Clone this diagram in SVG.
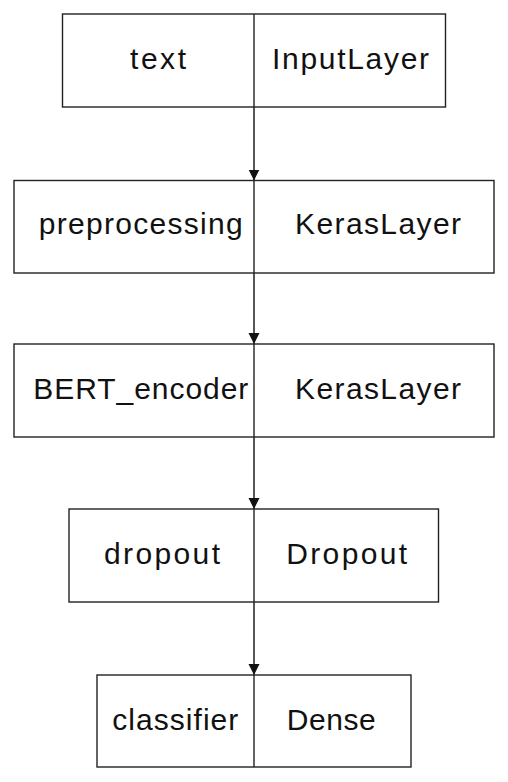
<svg xmlns="http://www.w3.org/2000/svg" width="508" height="782" viewBox="0 0 508 782">
<defs>
<marker id="arr" markerWidth="12" markerHeight="12" refX="11" refY="5.5" orient="auto" markerUnits="userSpaceOnUse">
<path d="M0,0 L11,5.5 L0,11 Z" fill="#111"/>
</marker>
</defs>
<style>
rect{fill:#fff;stroke:#222;stroke-width:1.4}
.d{stroke:#222;stroke-width:1.4}
text{font-family:"Liberation Sans",Arial,sans-serif;font-size:30px;fill:#111;text-anchor:middle}
.c{stroke:#111;stroke-width:1.4;fill:none}
</style>
<rect x="0" y="0" width="508" height="782" style="fill:#fff;stroke:none"/>
<g id="connectors">
<line class="c" x1="254" y1="107" x2="254" y2="180.5" marker-end="url(#arr)"/>
<line class="c" x1="254" y1="273" x2="254" y2="344" marker-end="url(#arr)"/>
<line class="c" x1="254" y1="437" x2="254" y2="509" marker-end="url(#arr)"/>
<line class="c" x1="254" y1="602" x2="254" y2="675" marker-end="url(#arr)"/>
</g>
<g id="text_node">
<rect x="62.5" y="14" width="383" height="93"/>
<line class="d" x1="254" y1="14" x2="254" y2="107"/>
<text x="158" y="69" textLength="56">text</text>
<text x="350.5" y="69" textLength="157">InputLayer</text>
</g>
<g id="preprocessing_node">
<rect x="14" y="180.5" width="480" height="92.5"/>
<line class="d" x1="254" y1="180.5" x2="254" y2="273"/>
<text x="140.7" y="233.5" textLength="204">preprocessing</text>
<text x="378" y="233.5" textLength="166">KerasLayer</text>
</g>
<g id="bert_node">
<rect x="14" y="344" width="480" height="93"/>
<line class="d" x1="254" y1="344" x2="254" y2="437"/>
<text x="140.8" y="398.5" textLength="215">BERT_encoder</text>
<text x="378" y="398.5" textLength="166">KerasLayer</text>
</g>
<g id="dropout_node">
<rect x="69" y="509" width="369.5" height="93"/>
<line class="d" x1="254" y1="509" x2="254" y2="602"/>
<text x="162" y="564" textLength="116">dropout</text>
<text x="346.7" y="564" textLength="121">Dropout</text>
</g>
<g id="classifier_node">
<rect x="97" y="675" width="314" height="92"/>
<line class="d" x1="254" y1="675" x2="254" y2="767"/>
<text x="175.3" y="729.5" textLength="126">classifier</text>
<text x="331.3" y="729.5" textLength="89">Dense</text>
</g>
</svg>
